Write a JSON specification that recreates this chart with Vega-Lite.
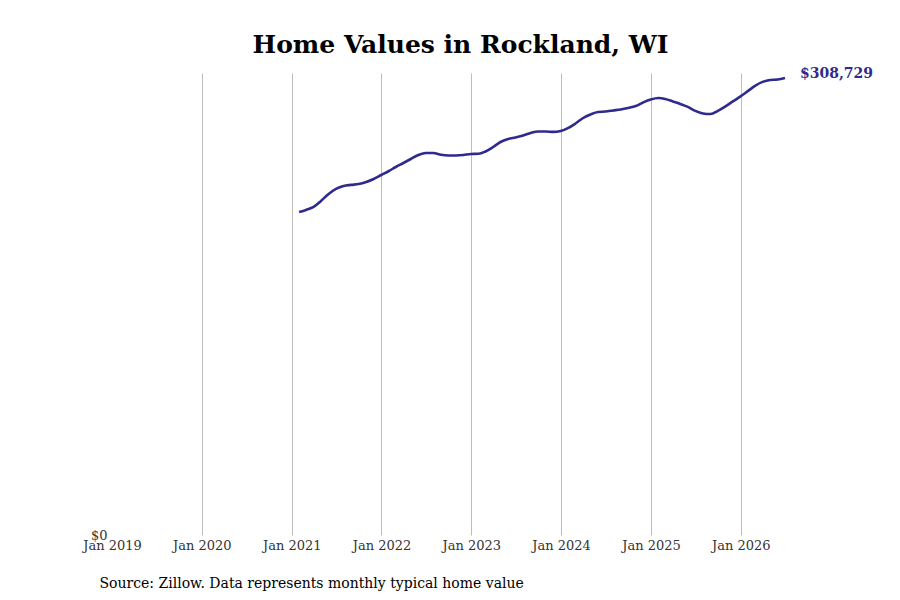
{
  "$schema": "https://vega.github.io/schema/vega-lite/v6.json",
  "autosize": {"type": "none"},
  "width": 673,
  "height": 462,
  "padding": {"left": 112, "top": 73, "right": 115, "bottom": 65},
  "background": "white",
  "config": {
    "view": {"stroke": null},
    "font": "DejaVu Serif"
  },
  "title": {
    "text": "Home Values in Rockland, WI",
    "font": "DejaVu Serif",
    "fontSize": 25,
    "fontWeight": "bold",
    "color": "#000000",
    "anchor": "middle",
    "dx": 12,
    "offset": 9
  },
  "data": {
    "values": [
      {"date": "2021-01-31", "value": 218200},
      {"date": "2021-02-28", "value": 219600},
      {"date": "2021-03-31", "value": 221600},
      {"date": "2021-04-30", "value": 225700},
      {"date": "2021-05-31", "value": 230400},
      {"date": "2021-06-30", "value": 233800},
      {"date": "2021-07-31", "value": 235800},
      {"date": "2021-08-31", "value": 236500},
      {"date": "2021-09-30", "value": 237100},
      {"date": "2021-10-31", "value": 238500},
      {"date": "2021-11-30", "value": 240500},
      {"date": "2021-12-31", "value": 243200},
      {"date": "2022-01-31", "value": 245900},
      {"date": "2022-02-28", "value": 248600},
      {"date": "2022-03-31", "value": 251300},
      {"date": "2022-04-30", "value": 254000},
      {"date": "2022-05-31", "value": 256700},
      {"date": "2022-06-30", "value": 258100},
      {"date": "2022-07-31", "value": 258100},
      {"date": "2022-08-31", "value": 256900},
      {"date": "2022-09-30", "value": 256400},
      {"date": "2022-10-31", "value": 256400},
      {"date": "2022-11-30", "value": 256700},
      {"date": "2022-12-31", "value": 257400},
      {"date": "2023-01-31", "value": 257500},
      {"date": "2023-02-28", "value": 259100},
      {"date": "2023-03-31", "value": 262100},
      {"date": "2023-04-30", "value": 265500},
      {"date": "2023-05-31", "value": 267500},
      {"date": "2023-06-30", "value": 268600},
      {"date": "2023-07-31", "value": 269900},
      {"date": "2023-08-31", "value": 271600},
      {"date": "2023-09-30", "value": 272600},
      {"date": "2023-10-31", "value": 272600},
      {"date": "2023-11-30", "value": 272300},
      {"date": "2023-12-31", "value": 272900},
      {"date": "2024-01-31", "value": 275000},
      {"date": "2024-02-29", "value": 278000},
      {"date": "2024-03-31", "value": 281700},
      {"date": "2024-04-30", "value": 284100},
      {"date": "2024-05-31", "value": 285800},
      {"date": "2024-06-30", "value": 286100},
      {"date": "2024-07-31", "value": 286800},
      {"date": "2024-08-31", "value": 287500},
      {"date": "2024-09-30", "value": 288500},
      {"date": "2024-10-31", "value": 289800},
      {"date": "2024-11-30", "value": 292200},
      {"date": "2024-12-31", "value": 294200},
      {"date": "2025-01-31", "value": 295200},
      {"date": "2025-02-28", "value": 294600},
      {"date": "2025-03-31", "value": 292900},
      {"date": "2025-04-30", "value": 291200},
      {"date": "2025-05-31", "value": 289200},
      {"date": "2025-06-30", "value": 286500},
      {"date": "2025-07-31", "value": 284800},
      {"date": "2025-08-31", "value": 284400},
      {"date": "2025-09-30", "value": 286500},
      {"date": "2025-10-31", "value": 289500},
      {"date": "2025-11-30", "value": 292900},
      {"date": "2025-12-31", "value": 296300},
      {"date": "2026-01-31", "value": 300000},
      {"date": "2026-02-28", "value": 303400},
      {"date": "2026-03-31", "value": 306100},
      {"date": "2026-04-30", "value": 307400},
      {"date": "2026-05-31", "value": 307700},
      {"date": "2026-06-30", "value": 308729}
    ]
  },
  "encoding": {
    "x": {
      "field": "date",
      "type": "temporal",
      "scale": {"domain": ["2019-01-01T00:00:00", "2026-06-30T00:00:00"]},
      "axis": {
        "format": "%b %Y",
        "tickCount": {"interval": "year", "step": 1},
        "grid": true,
        "gridColor": "#bdbdbd",
        "gridWidth": 1,
        "gridOpacity": {"condition": {"test": "year(datum.value) == 2019", "value": 0}, "value": 1},
        "domain": false,
        "ticks": false,
        "labelFont": "DejaVu Serif",
        "labelFontSize": 13,
        "labelColor": "#333333",
        "labelPadding": 4,
        "labelFlush": false,
        "title": "Source: Zillow. Data represents monthly typical home value",
        "titleFont": "DejaVu Serif",
        "titleFontSize": 14,
        "titleFontWeight": "normal",
        "titleColor": "#000000",
        "titleAnchor": "start",
        "titleAlign": "left",
        "titleBaseline": "alphabetic",
        "titleX": -13,
        "titleY": 52
      }
    },
    "y": {
      "field": "value",
      "type": "quantitative",
      "scale": {"domain": [0, 312100]},
      "axis": {
        "values": [0],
        "format": "$,.0f",
        "grid": false,
        "domain": false,
        "ticks": false,
        "labelFont": "DejaVu Serif",
        "labelFontSize": 13,
        "labelColor": "#333333",
        "labelPadding": 5,
        "title": null
      }
    }
  },
  "layer": [
    {
      "mark": {"type": "line", "color": "#2e2a8e", "strokeWidth": 2.6, "interpolate": "monotone"}
    },
    {
      "transform": [{"filter": "datum.value == 308729"}],
      "mark": {
        "type": "text",
        "align": "left",
        "baseline": "middle",
        "dx": 15,
        "dy": -4,
        "font": "DejaVu Serif",
        "fontSize": 14,
        "fontWeight": "bold",
        "color": "#2e2a8e"
      },
      "encoding": {
        "text": {"field": "value", "type": "quantitative", "format": "$,.0f"}
      }
    }
  ]
}
